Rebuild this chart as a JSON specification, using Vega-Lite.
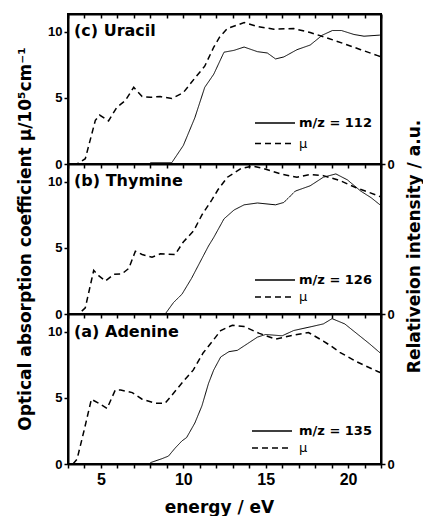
{
"$schema": "https://vega.github.io/schema/vega-lite/v6.json",
"padding": {"left": 14, "top": 12, "right": 0, "bottom": 0},
"background": "white",
"spacing": 0,
"bounds": "flush",
"config": {
  "view": {"stroke": "black", "strokeWidth": 2},
  "axis": {"domainColor": "black", "domainWidth": 2, "tickColor": "black", "tickWidth": 1.5, "tickSize": 4, "grid": false,
           "labelFont": "Liberation Sans", "labelFontWeight": "bold", "labelColor": "black", "labelFontSize": 13, "labelPadding": 2,
           "titleFont": "DejaVu Sans", "titleFontWeight": "bold", "titleColor": "black", "titleFontSize": 17},
  "legend": {"title": null, "orient": "none", "symbolType": "stroke", "symbolSize": 1600, "symbolStrokeColor": "black", "symbolStrokeWidth": 1.3, "labelFont": "DejaVu Sans", "labelFontWeight": "bold", "labelFontSize": 13, "labelColor": "black", "labelOffset": 3, "padding": 0}
},
"datasets": {"d": [
{"p":"c","s":"μ","e":3.3,"v":0},{"p":"c","s":"μ","e":3.55,"v":0},{"p":"c","s":"μ","e":4.05,"v":0.4},{"p":"c","s":"μ","e":4.66,"v":3.3},{"p":"c","s":"μ","e":4.92,"v":3.7},{"p":"c","s":"μ","e":5.46,"v":3.26},{"p":"c","s":"μ","e":5.96,"v":4.28},{"p":"c","s":"μ","e":6.48,"v":4.8},{"p":"c","s":"μ","e":6.99,"v":5.8},{"p":"c","s":"μ","e":7.5,"v":5.1},{"p":"c","s":"μ","e":8.0,"v":5.05},{"p":"c","s":"μ","e":8.6,"v":5.1},{"p":"c","s":"μ","e":9.3,"v":4.95},{"p":"c","s":"μ","e":10.0,"v":5.4},{"p":"c","s":"μ","e":10.7,"v":6.5},{"p":"c","s":"μ","e":11.3,"v":7.4},{"p":"c","s":"μ","e":11.85,"v":8.85},{"p":"c","s":"μ","e":12.2,"v":9.6},{"p":"c","s":"μ","e":12.67,"v":10.25},{"p":"c","s":"μ","e":13.7,"v":10.7},{"p":"c","s":"μ","e":14.5,"v":10.4},{"p":"c","s":"μ","e":15.5,"v":10.2},{"p":"c","s":"μ","e":16.7,"v":10.25},{"p":"c","s":"μ","e":17.7,"v":9.95},{"p":"c","s":"μ","e":18.7,"v":9.55},{"p":"c","s":"μ","e":19.76,"v":9.1},{"p":"c","s":"μ","e":20.77,"v":8.65},{"p":"c","s":"μ","e":21.8,"v":8.2},{"p":"c","s":"μ","e":22,"v":8.1},
{"p":"c","s":"m/z = 112","e":8.0,"v":0.1},{"p":"c","s":"m/z = 112","e":9.3,"v":0.1},{"p":"c","s":"m/z = 112","e":10.0,"v":1.4},{"p":"c","s":"m/z = 112","e":10.7,"v":3.5},{"p":"c","s":"m/z = 112","e":11.3,"v":5.8},{"p":"c","s":"m/z = 112","e":11.85,"v":6.8},{"p":"c","s":"m/z = 112","e":12.47,"v":8.46},{"p":"c","s":"m/z = 112","e":13.08,"v":8.6},{"p":"c","s":"m/z = 112","e":13.69,"v":8.85},{"p":"c","s":"m/z = 112","e":14.5,"v":8.5},{"p":"c","s":"m/z = 112","e":15.1,"v":8.4},{"p":"c","s":"m/z = 112","e":15.6,"v":7.95},{"p":"c","s":"m/z = 112","e":16.1,"v":8.1},{"p":"c","s":"m/z = 112","e":16.9,"v":8.65},{"p":"c","s":"m/z = 112","e":17.7,"v":9.0},{"p":"c","s":"m/z = 112","e":18.44,"v":9.75},{"p":"c","s":"m/z = 112","e":19.05,"v":10.1},{"p":"c","s":"m/z = 112","e":19.6,"v":10.1},{"p":"c","s":"m/z = 112","e":20.36,"v":9.8},{"p":"c","s":"m/z = 112","e":20.97,"v":9.67},{"p":"c","s":"m/z = 112","e":21.9,"v":9.75},{"p":"c","s":"m/z = 112","e":22,"v":9.75},
{"p":"b","s":"μ","e":3.3,"v":0},{"p":"b","s":"μ","e":3.65,"v":0},{"p":"b","s":"μ","e":4.05,"v":0.47},{"p":"b","s":"μ","e":4.56,"v":3.3},{"p":"b","s":"μ","e":4.86,"v":2.9},{"p":"b","s":"μ","e":5.27,"v":2.5},{"p":"b","s":"μ","e":5.78,"v":3.0},{"p":"b","s":"μ","e":6.28,"v":3.04},{"p":"b","s":"μ","e":6.69,"v":3.45},{"p":"b","s":"μ","e":7.09,"v":4.75},{"p":"b","s":"μ","e":7.5,"v":4.5},{"p":"b","s":"μ","e":8.1,"v":4.3},{"p":"b","s":"μ","e":8.6,"v":4.55},{"p":"b","s":"μ","e":9.5,"v":4.5},{"p":"b","s":"μ","e":10.0,"v":5.45},{"p":"b","s":"μ","e":10.63,"v":6.3},{"p":"b","s":"μ","e":11.13,"v":7.5},{"p":"b","s":"μ","e":11.74,"v":8.65},{"p":"b","s":"μ","e":12.1,"v":9.4},{"p":"b","s":"μ","e":12.68,"v":10.35},{"p":"b","s":"μ","e":13.5,"v":11.0},{"p":"b","s":"μ","e":14.2,"v":11.2},{"p":"b","s":"μ","e":14.9,"v":11.0},{"p":"b","s":"μ","e":15.9,"v":10.6},{"p":"b","s":"μ","e":16.9,"v":10.35},{"p":"b","s":"μ","e":17.7,"v":10.55},{"p":"b","s":"μ","e":18.5,"v":10.47},{"p":"b","s":"μ","e":19.5,"v":10.1},{"p":"b","s":"μ","e":20.5,"v":9.55},{"p":"b","s":"μ","e":21.8,"v":8.96},{"p":"b","s":"μ","e":22,"v":8.85},
{"p":"b","s":"m/z = 126","e":8.0,"v":0},{"p":"b","s":"m/z = 126","e":8.9,"v":0},{"p":"b","s":"m/z = 126","e":9.4,"v":0.86},{"p":"b","s":"m/z = 126","e":9.92,"v":1.5},{"p":"b","s":"m/z = 126","e":10.5,"v":2.7},{"p":"b","s":"m/z = 126","e":11.13,"v":4.2},{"p":"b","s":"m/z = 126","e":11.53,"v":5.15},{"p":"b","s":"m/z = 126","e":11.85,"v":5.8},{"p":"b","s":"m/z = 126","e":12.47,"v":7.2},{"p":"b","s":"m/z = 126","e":13.08,"v":7.87},{"p":"b","s":"m/z = 126","e":13.69,"v":8.26},{"p":"b","s":"m/z = 126","e":14.5,"v":8.4},{"p":"b","s":"m/z = 126","e":15.6,"v":8.26},{"p":"b","s":"m/z = 126","e":16.1,"v":8.44},{"p":"b","s":"m/z = 126","e":16.8,"v":9.3},{"p":"b","s":"m/z = 126","e":17.7,"v":9.7},{"p":"b","s":"m/z = 126","e":18.5,"v":10.35},{"p":"b","s":"m/z = 126","e":19.26,"v":10.6},{"p":"b","s":"m/z = 126","e":19.96,"v":10.15},{"p":"b","s":"m/z = 126","e":20.77,"v":9.3},{"p":"b","s":"m/z = 126","e":21.4,"v":8.8},{"p":"b","s":"m/z = 126","e":21.9,"v":8.3},{"p":"b","s":"m/z = 126","e":22,"v":8.2},
{"p":"a","s":"μ","e":3.3,"v":0},{"p":"a","s":"μ","e":3.55,"v":0.37},{"p":"a","s":"μ","e":3.95,"v":2.4},{"p":"a","s":"μ","e":4.42,"v":4.9},{"p":"a","s":"μ","e":4.86,"v":4.6},{"p":"a","s":"μ","e":5.37,"v":4.2},{"p":"a","s":"μ","e":5.87,"v":5.6},{"p":"a","s":"μ","e":6.2,"v":5.6},{"p":"a","s":"μ","e":6.9,"v":5.4},{"p":"a","s":"μ","e":7.5,"v":4.9},{"p":"a","s":"μ","e":8.3,"v":4.6},{"p":"a","s":"μ","e":8.9,"v":4.6},{"p":"a","s":"μ","e":9.5,"v":5.5},{"p":"a","s":"μ","e":10.0,"v":6.25},{"p":"a","s":"μ","e":10.6,"v":7.1},{"p":"a","s":"μ","e":11.2,"v":8.4},{"p":"a","s":"μ","e":11.84,"v":9.4},{"p":"a","s":"μ","e":12.27,"v":10.1},{"p":"a","s":"μ","e":12.98,"v":10.5},{"p":"a","s":"μ","e":13.69,"v":10.4},{"p":"a","s":"μ","e":14.58,"v":9.9},{"p":"a","s":"μ","e":15.6,"v":9.45},{"p":"a","s":"μ","e":16.7,"v":9.75},{"p":"a","s":"μ","e":17.6,"v":9.95},{"p":"a","s":"μ","e":18.5,"v":9.3},{"p":"a","s":"μ","e":19.0,"v":8.9},{"p":"a","s":"μ","e":19.5,"v":8.45},{"p":"a","s":"μ","e":20.5,"v":7.75},{"p":"a","s":"μ","e":21.8,"v":7.0},{"p":"a","s":"μ","e":22,"v":6.9},
{"p":"a","s":"m/z = 135","e":8.0,"v":0.1},{"p":"a","s":"m/z = 135","e":8.7,"v":0.4},{"p":"a","s":"m/z = 135","e":9.1,"v":0.6},{"p":"a","s":"m/z = 135","e":9.5,"v":1.2},{"p":"a","s":"m/z = 135","e":9.92,"v":1.75},{"p":"a","s":"m/z = 135","e":10.2,"v":2.0},{"p":"a","s":"m/z = 135","e":10.7,"v":3.1},{"p":"a","s":"m/z = 135","e":11.13,"v":4.4},{"p":"a","s":"m/z = 135","e":11.53,"v":6.1},{"p":"a","s":"m/z = 135","e":11.84,"v":7.1},{"p":"a","s":"m/z = 135","e":12.27,"v":8.1},{"p":"a","s":"m/z = 135","e":12.77,"v":8.5},{"p":"a","s":"m/z = 135","e":13.28,"v":8.6},{"p":"a","s":"m/z = 135","e":13.89,"v":9.1},{"p":"a","s":"m/z = 135","e":14.5,"v":9.6},{"p":"a","s":"m/z = 135","e":15.0,"v":9.8},{"p":"a","s":"m/z = 135","e":16.0,"v":9.7},{"p":"a","s":"m/z = 135","e":16.7,"v":10.1},{"p":"a","s":"m/z = 135","e":17.8,"v":10.4},{"p":"a","s":"m/z = 135","e":18.5,"v":10.6},{"p":"a","s":"m/z = 135","e":19.03,"v":11.0},{"p":"a","s":"m/z = 135","e":19.8,"v":10.6},{"p":"a","s":"m/z = 135","e":20.65,"v":9.75},{"p":"a","s":"m/z = 135","e":21.3,"v":9.1},{"p":"a","s":"m/z = 135","e":21.86,"v":8.5},{"p":"a","s":"m/z = 135","e":22,"v":8.35}
]},
"vconcat": [
{
  "width": 313, "height": 150,
  "title": {"text": "(c) Uracil", "anchor": "start", "frame": "group", "offset": -26, "dx": 6, "font": "DejaVu Sans", "fontSize": 16, "fontWeight": "bold", "color": "black"},
  "data": {"name": "d"},
  "transform": [{"filter": "datum.p === 'c'"}],
  "layer": [
    {"transform": [{"filter": "datum.s === 'μ'"}],
     "mark": {"type": "line", "color": "black", "strokeWidth": 1.5},
     "encoding": {
       "x": {"field": "e", "type": "quantitative", "scale": {"domain": [3, 22], "nice": false, "zero": false}, "axis": {"values": [3,4,5,6,7,8,9,10,11,12,13,14,15,16,17,18,19,20,21,22], "labels": false, "title": null}},
       "y": {"field": "v", "type": "quantitative", "scale": {"domain": [0, 11.35], "nice": false}, "axis": {"values": [0, 5, 10], "title": "Optical absorption coefficient  μ/10⁵cm⁻¹", "titleX": -38, "titleY": 224.5, "titleAngle": 270, "titleBaseline": "alphabetic", "titleAlign": "center"}},
       "strokeDash": {"field": "s", "type": "nominal", "scale": {"domain": ["m/z = 112", "μ"], "range": [[1, 0], [6, 4]]},
         "legend": {"legendX": 186, "legendY": 102, "rowPadding": 6.5,
           "encode": {"symbols": {"update": {"y": {"value": 7}}}, "labels": {"update": {"y": {"value": 7}, "fontWeight": {"signal": "datum.label === 'μ' ? 'normal' : 'bold'"}}}}}}
     }},
    {"transform": [{"filter": "datum.s !== 'μ'"}],
     "mark": {"type": "line", "color": "black", "strokeWidth": 1},
     "encoding": {
       "x": {"field": "e", "type": "quantitative", "scale": {"domain": [3, 22], "nice": false, "zero": false}, "axis": {"orient": "top", "values": [3,4,5,6,7,8,9,10,11,12,13,14,15,16,17,18,19,20,21,22], "labels": false, "title": null, "tickSize": -4}},
       "y": {"field": "v", "type": "quantitative", "scale": {"domain": [0, 11.35], "nice": false}, "axis": {"orient": "right", "values": [0], "title": "Relativeion intensity / a.u.", "titleX": 38, "titleY": 232, "titleAngle": 270, "titleBaseline": "alphabetic", "titleAlign": "center"}},
       "strokeDash": {"field": "s", "type": "nominal", "scale": {"domain": ["m/z = 112", "μ"], "range": [[1, 0], [6, 4]]},
         "legend": {"legendX": 186, "legendY": 102, "rowPadding": 6.5,
           "encode": {"symbols": {"update": {"y": {"value": 7}}}, "labels": {"update": {"y": {"value": 7}, "fontWeight": {"signal": "datum.label === 'μ' ? 'normal' : 'bold'"}}}}}}
     }}
  ],
  "resolve": {"scale": {"y": "independent"}, "axis": {"x": "independent", "y": "independent"}}
},
{
  "width": 313, "height": 150,
  "title": {"text": "(b) Thymine", "anchor": "start", "frame": "group", "offset": -26, "dx": 6, "font": "DejaVu Sans", "fontSize": 16, "fontWeight": "bold", "color": "black"},
  "data": {"name": "d"},
  "transform": [{"filter": "datum.p === 'b'"}],
  "layer": [
    {"transform": [{"filter": "datum.s === 'μ'"}],
     "mark": {"type": "line", "color": "black", "strokeWidth": 1.5},
     "encoding": {
       "x": {"field": "e", "type": "quantitative", "scale": {"domain": [3, 22], "nice": false, "zero": false}, "axis": {"values": [3,4,5,6,7,8,9,10,11,12,13,14,15,16,17,18,19,20,21,22], "labels": false, "title": null}},
       "y": {"field": "v", "type": "quantitative", "scale": {"domain": [0, 11.35], "nice": false}, "axis": {"values": [0, 5, 10], "title": null}},
       "strokeDash": {"field": "s", "type": "nominal", "scale": {"domain": ["m/z = 126", "μ"], "range": [[1, 0], [6, 4]]},
         "legend": {"legendX": 186, "legendY": 109, "rowPadding": 3,
           "encode": {"symbols": {"update": {"y": {"value": 7}}}, "labels": {"update": {"y": {"value": 7}, "fontWeight": {"signal": "datum.label === 'μ' ? 'normal' : 'bold'"}}}}}}
     }},
    {"transform": [{"filter": "datum.s !== 'μ'"}],
     "mark": {"type": "line", "color": "black", "strokeWidth": 1},
     "encoding": {
       "x": {"field": "e", "type": "quantitative", "scale": {"domain": [3, 22], "nice": false, "zero": false}, "axis": null},
       "y": {"field": "v", "type": "quantitative", "scale": {"domain": [0, 11.35], "nice": false}, "axis": {"orient": "right", "values": [0], "title": null}},
       "strokeDash": {"field": "s", "type": "nominal", "scale": {"domain": ["m/z = 126", "μ"], "range": [[1, 0], [6, 4]]},
         "legend": {"legendX": 186, "legendY": 109, "rowPadding": 3,
           "encode": {"symbols": {"update": {"y": {"value": 7}}}, "labels": {"update": {"y": {"value": 7}, "fontWeight": {"signal": "datum.label === 'μ' ? 'normal' : 'bold'"}}}}}}
     }}
  ],
  "resolve": {"scale": {"y": "independent"}, "axis": {"x": "independent", "y": "independent"}}
},
{
  "width": 313, "height": 150,
  "title": {"text": "(a) Adenine", "anchor": "start", "frame": "group", "offset": -26, "dx": 6, "font": "DejaVu Sans", "fontSize": 16, "fontWeight": "bold", "color": "black"},
  "data": {"name": "d"},
  "transform": [{"filter": "datum.p === 'a'"}],
  "layer": [
    {"transform": [{"filter": "datum.s === 'μ'"}],
     "mark": {"type": "line", "color": "black", "strokeWidth": 1.5},
     "encoding": {
       "x": {"field": "e", "type": "quantitative", "scale": {"domain": [3, 22], "nice": false, "zero": false}, "axis": {"values": [3,4,5,6,7,8,9,10,11,12,13,14,15,16,17,18,19,20,21,22], "labelExpr": "datum.value % 5 === 0 ? datum.label : ''", "labelFontSize": 16, "labelPadding": 3, "labelOverlap": false, "title": "energy / eV", "titleX": 151, "titleY": 48, "titleBaseline": "alphabetic"}},
       "y": {"field": "v", "type": "quantitative", "scale": {"domain": [0, 11.35], "nice": false}, "axis": {"values": [0, 5, 10], "title": null}},
       "strokeDash": {"field": "s", "type": "nominal", "scale": {"domain": ["m/z = 135", "μ"], "range": [[1, 0], [6, 4]]},
         "legend": {"legendX": 183, "legendY": 110, "rowPadding": 3, "labelOffset": 6,
           "encode": {"symbols": {"update": {"y": {"value": 7}}}, "labels": {"update": {"y": {"value": 7}, "fontWeight": {"signal": "datum.label === 'μ' ? 'normal' : 'bold'"}}}}}}
     }},
    {"transform": [{"filter": "datum.s !== 'μ'"}],
     "mark": {"type": "line", "color": "black", "strokeWidth": 1},
     "encoding": {
       "x": {"field": "e", "type": "quantitative", "scale": {"domain": [3, 22], "nice": false, "zero": false}, "axis": null},
       "y": {"field": "v", "type": "quantitative", "scale": {"domain": [0, 11.35], "nice": false}, "axis": {"orient": "right", "values": [0], "title": null}},
       "strokeDash": {"field": "s", "type": "nominal", "scale": {"domain": ["m/z = 135", "μ"], "range": [[1, 0], [6, 4]]},
         "legend": {"legendX": 183, "legendY": 110, "rowPadding": 3, "labelOffset": 6,
           "encode": {"symbols": {"update": {"y": {"value": 7}}}, "labels": {"update": {"y": {"value": 7}, "fontWeight": {"signal": "datum.label === 'μ' ? 'normal' : 'bold'"}}}}}}
     }}
  ],
  "resolve": {"scale": {"y": "independent"}, "axis": {"x": "independent", "y": "independent"}}
}
],
"resolve": {"scale": {"strokeDash": "independent"}, "legend": {"strokeDash": "independent"}}
}
